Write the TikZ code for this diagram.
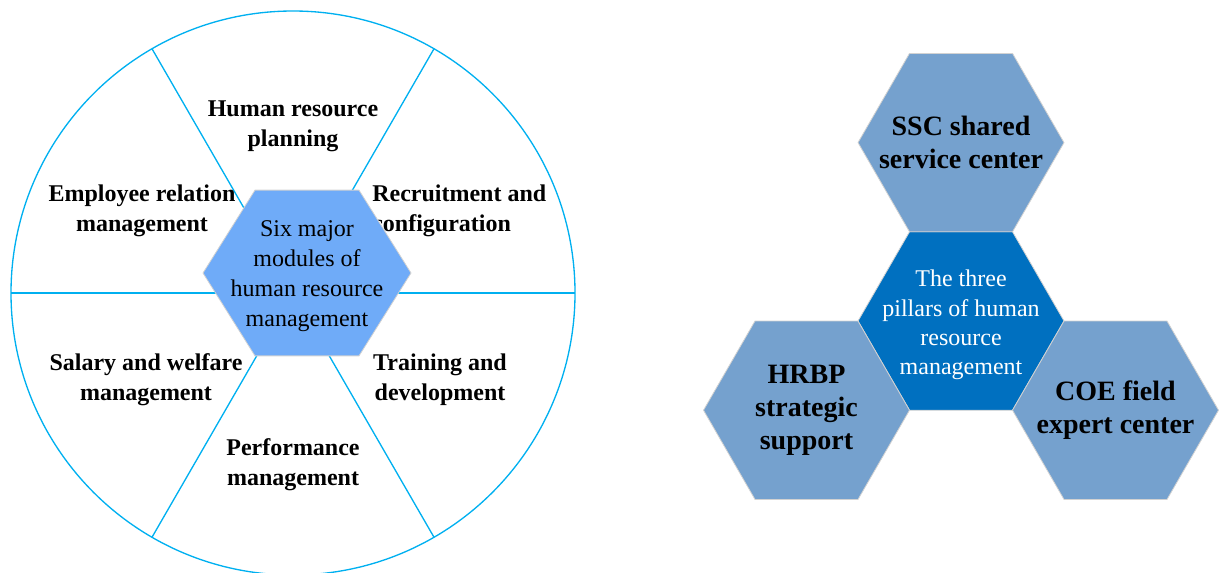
\documentclass[tikz,border=0pt]{standalone}
\usepackage{fontspec}
\setmainfont{Liberation Serif}
\usepackage{tikz}
\usetikzlibrary{positioning, shapes.geometric}
\tikzset{every node/.style={font=\fontsize{18}{22.5}\selectfont, align=center, inner sep=0pt}}
\usepackage{xcolor}
\definecolor{wheelline}{HTML}{00B0F0}
\definecolor{moduleblue}{HTML}{6FABF8}
\definecolor{pillarblue}{HTML}{0070C0}
\definecolor{sideblue}{HTML}{75A1CE}
\tikzset{
  hexagon/.style={regular polygon, regular polygon sides=6, minimum size=154.5pt,
    outer sep=0pt, draw=gray!35, line width=0.6pt},
  module/.style={font=\bfseries\fontsize{18}{22.5}\selectfont},
  pillar/.style={font=\bfseries\fontsize{21}{25}\selectfont},
}

\begin{document}
\begin{tikzpicture}[x=0.75pt, y=-0.75pt]
  \useasboundingbox (0,0) rectangle (1219,572);

  % wheel of the six modules
  \node[circle, draw=wheelline, line width=1pt, outer sep=0pt, minimum size=423pt] (wheel) at (293,293) {};
  \draw[wheelline, line width=1pt] (wheel.west) -- (wheel.east);
  \foreach \a in {60,120,240,300}
    \draw[wheelline, line width=1pt] (wheel.center) -- (wheel.\a);

  \node[module] (planning) at (293,126) {Human resource\\planning};
  \node[module] (relation) at (142,211) {Employee relation\\management};
  \node[module, align=left, anchor=west] (recruit) at (372,211) {Recruitment and\\configuration};
  \node[module] (salary) at (146,380) {Salary and welfare\\management};
  \node[module] (training) at (440,380) {Training and\\development};
  \node[module] (perform) at (293,465) {Performance\\management};

  \node[hexagon, fill=moduleblue, minimum size=156pt, yscale=0.92] (modules) at (307,273) {};
  \node at ([yshift=-2pt]modules.center) {Six major\\modules of\\human resource\\management};

  % three pillars, as a honeycomb
  \node[hexagon, fill=pillarblue] (pillars) at (961,321) {};
  \node[hexagon, fill=sideblue, anchor=side 4] (ssc) at (pillars.side 1) {};
  \node[hexagon, fill=sideblue, anchor=side 6] (hrbp) at (pillars.side 3) {};
  \node[hexagon, fill=sideblue, anchor=side 2] (coe) at (pillars.side 5) {};

  \node[font=\fontsize{18}{22}\selectfont, text=white] at ([yshift=-3pt]pillars.center) {The three\\pillars of human\\resource\\management};
  \node[pillar] at (ssc.center) {SSC shared\\service center};
  \node[pillar] at (hrbp.center) {HRBP\\strategic\\support};
  \node[pillar] at (coe.center) {COE field\\expert center};
\end{tikzpicture}
\end{document}
